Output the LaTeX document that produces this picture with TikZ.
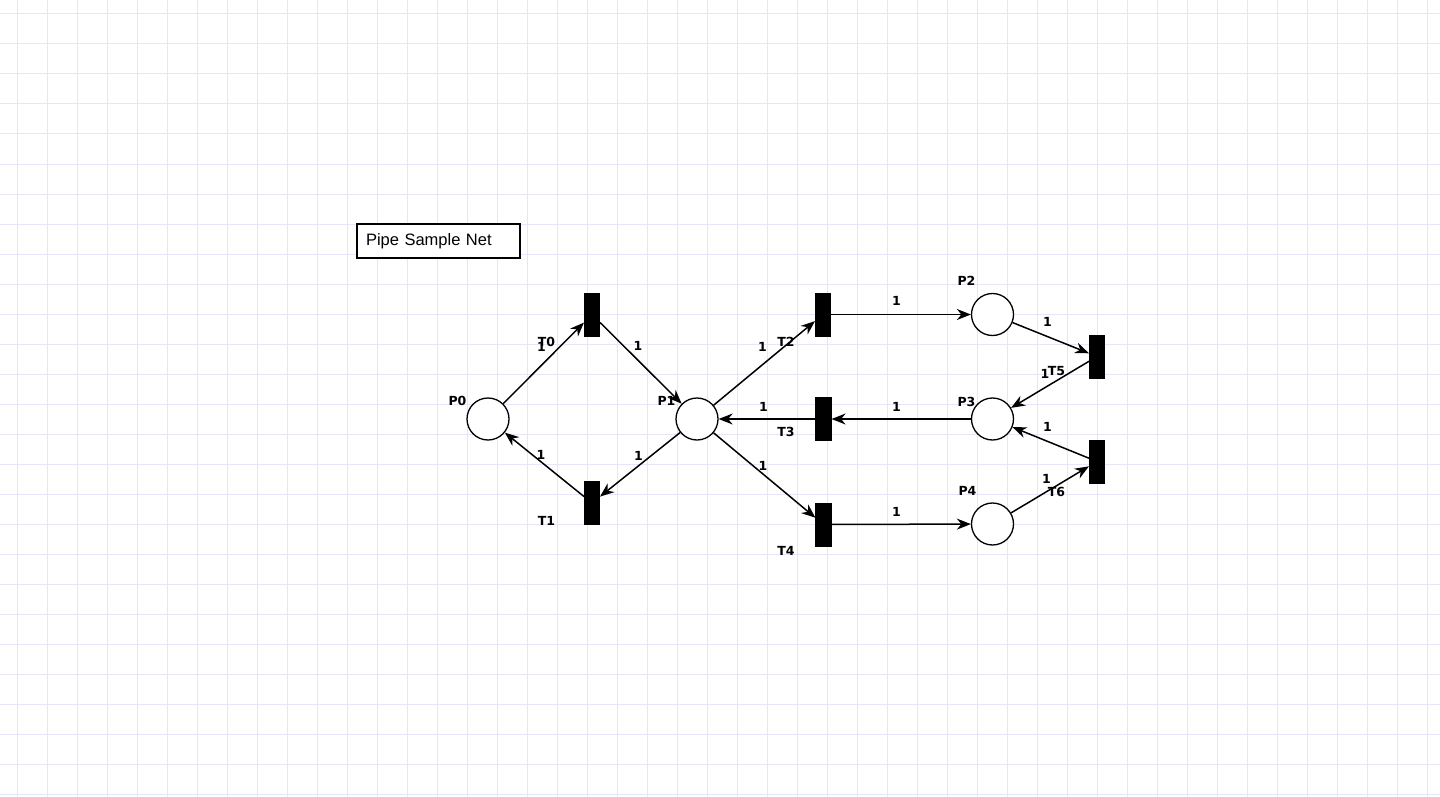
\documentclass[tikz,border=0pt]{standalone}
\usepackage{fontspec}
\setmainfont{Liberation Sans}
\newfontfamily\labfont{DejaVu Sans}
\usetikzlibrary{arrows.meta}
\definecolor{gridc}{RGB}{232,229,250}
\tikzset{
  place/.style={circle, draw=black, fill=white, line width=1.3pt, minimum size=42pt, inner sep=0pt},
  trans/.style={rectangle, fill=black, draw=black, line width=0.6pt, minimum width=15.5pt, minimum height=43pt, inner sep=0pt},
  arc/.style={line width=1.5pt, -{Stealth[length=14pt, width=11pt, inset=4.5pt]}},
  lab/.style={inner sep=0pt, font=\labfont\bfseries\fontsize{12.5}{13}\selectfont},
  gridline/.style={draw=gridc, line width=1pt}
}
\begin{document}
\begin{tikzpicture}[x=1pt,y=-1pt]
\useasboundingbox (0,0) rectangle (1440,797);
\fill[white] (0,0) rectangle (1440,797);
\foreach \x in {17,47,...,1427} \draw[gridline] (\x,0) -- (\x,797);
\foreach \y in {14,44,...,794} \draw[gridline] (0,\y) -- (1440,\y);

% title
\node[draw=black, line width=1.2pt, fill=white, text width=145pt, inner xsep=9pt, minimum height=34pt, align=left, font=\fontsize{16.5}{18}\selectfont] (title) at (438.5,241) {Pipe Sample Net};

% places
\node[place] (P0) at (488,419) {};
\node[place] (P1) at (697,419) {};
\node[place] (P2) at (992.5,314.5) {};
\node[place] (P3) at (992.5,419) {};
\node[place] (P4) at (992.5,524) {};

% transitions
\node[trans] (T0) at (592,314.5) {};
\node[trans] (T1) at (592,503) {};
\node[trans] (T2) at (823,314.5) {};
\node[trans] (T3) at (823.5,419) {};
\node[trans] (T4) at (823.5,524.5) {};
\node[trans] (T5) at (1097,356.5) {};
\node[trans] (T6) at (1097,461.5) {};

% arcs
\draw[arc] (P0) -- (T0);
\draw[arc] (T0) -- (P1);
\draw[arc] (P1) -- (T1);
\draw[arc] (T1) -- (P0);
\draw[arc] (P1) -- (T2);
\draw[arc] (T3) -- (P1);
\draw[arc] (P1) -- (T4);
\draw[arc] (T2) -- (P2);
\draw[arc] (P3) -- (T3);
\draw[arc] (T4) -- (P4);
\draw[arc] (P2) -- (T5);
\draw[arc] (T5) -- (P3);
\draw[arc] (P4) -- (T6);
\draw[arc] (T6) -- (P3);

% place labels
\node[lab] (lP0) at (457.5,401) {P0};
\node[lab] (lP1) at (666.5,401) {P1};
\node[lab] (lP2) at (966.5,281) {P2};
\node[lab] (lP3) at (966.5,401.5) {P3};
\node[lab] (lP4) at (967.5,491) {P4};

% transition labels
\node[lab] (lT0) at (546.5,341.5) {T0};
\node[lab] (lT1) at (546.5,521) {T1};
\node[lab] (lT2) at (786,341.5) {T2};
\node[lab] (lT3) at (786,432) {T3};
\node[lab] (lT4) at (786,551) {T4};
\node[lab] (lT5) at (1056.5,371.5) {T5};
\node[lab] (lT6) at (1056.5,491.5) {T6};

% arc weights
\node[lab] (w1) at (541.5,346.5) {1};
\node[lab] (w2) at (638,346) {1};
\node[lab] (w3) at (638.5,455.5) {1};
\node[lab] (w4) at (541,455) {1};
\node[lab] (w5) at (762.5,347) {1};
\node[lab] (w6) at (763.5,406.5) {1};
\node[lab] (w7) at (763,466) {1};
\node[lab] (w8) at (896.5,301) {1};
\node[lab] (w9) at (896.5,406.5) {1};
\node[lab] (w10) at (896.5,511.5) {1};
\node[lab] (w11) at (1047.5,321.5) {1};
\node[lab] (w12) at (1045,373.5) {1};
\node[lab] (w13) at (1047.5,427) {1};
\node[lab] (w14) at (1046.5,479) {1};
\end{tikzpicture}
\end{document}
